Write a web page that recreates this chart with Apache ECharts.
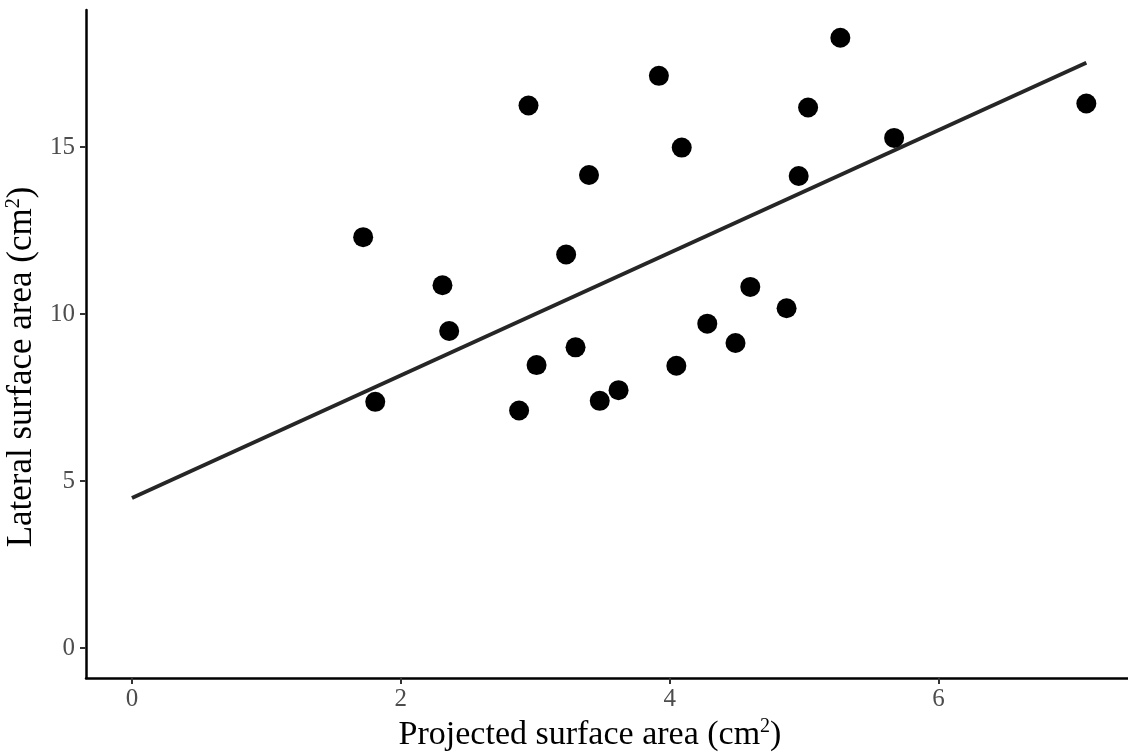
<!DOCTYPE html>
<html><head><meta charset="utf-8">
<script src="https://cdn.jsdelivr.net/npm/echarts@6/dist/echarts.min.js"></script>
<style>html,body{margin:0;padding:0;background:#fff}#c{width:1128px;height:756px}</style>
</head><body><div id="c"></div>
<script>
const projected = [1.72,1.81,2.31,2.36,2.88,2.95,3.01,3.23,3.30,3.40,3.48,3.62,3.92,4.05,4.09,4.28,4.49,4.60,4.87,4.96,5.03,5.27,5.67,7.10];
const lateral   = [12.30,7.37,10.86,9.49,7.11,16.24,8.47,11.78,9.00,14.16,7.40,7.72,17.13,8.45,14.98,9.71,9.13,10.81,10.17,14.13,16.18,18.27,15.27,16.30];
const fitLine = [[0,4.49],[7.10,17.52]];
const xTicks = [0,2,4,6];
const yTicks = [0,5,10,15];

const chart = echarts.init(document.getElementById('c'));
const serif = 'Liberation Serif';
chart.setOption({
  animation:false,
  backgroundColor:'#fff',
  grid:{left:86,right:0,top:10,bottom:78,containLabel:false,outerBoundsMode:'none'},
  xAxis:{type:'value',min:-0.342,max:7.41,
    name:'Projected surface area (cm{s|2})',nameLocation:'middle',nameGap:37,
    nameTextStyle:{fontFamily:serif,fontSize:34,color:'#000',padding:[0,34,0,0],
      rich:{s:{fontFamily:serif,fontSize:20,color:'#000',verticalAlign:'top',padding:[0,0,16,0]}}},
    axisLine:{show:true,onZero:false,lineStyle:{color:'#000',width:2.5}},
    axisTick:{show:true,length:6,customValues:xTicks,lineStyle:{color:'#333',width:2}},
    axisLabel:{customValues:xTicks,fontFamily:serif,fontSize:25,color:'#4d4d4d',margin:9},
    splitLine:{show:false}},
  yAxis:{type:'value',min:-0.898,max:19.1,
    name:'Lateral surface area (cm{s|2})',nameLocation:'middle',nameGap:46,
    nameTextStyle:{fontFamily:serif,fontSize:35,color:'#000',padding:[0,46,0,0],
      rich:{s:{fontFamily:serif,fontSize:20,color:'#000',verticalAlign:'top',padding:[0,0,16,0]}}},
    axisLine:{show:true,onZero:false,lineStyle:{color:'#000',width:2.5}},
    axisTick:{show:true,length:6,customValues:yTicks,lineStyle:{color:'#333',width:2}},
    axisLabel:{customValues:yTicks,fontFamily:serif,fontSize:25,color:'#4d4d4d',margin:11},
    splitLine:{show:false}},
  series:[
    {type:'line',data:fitLine,showSymbol:false,symbol:'none',lineStyle:{color:'#262626',width:4},z:2},
    {type:'scatter',data:projected.map((x,i)=>[x,lateral[i]]),symbolSize:20,itemStyle:{color:'#000',opacity:1},z:3}
  ]
});
</script></body></html>
